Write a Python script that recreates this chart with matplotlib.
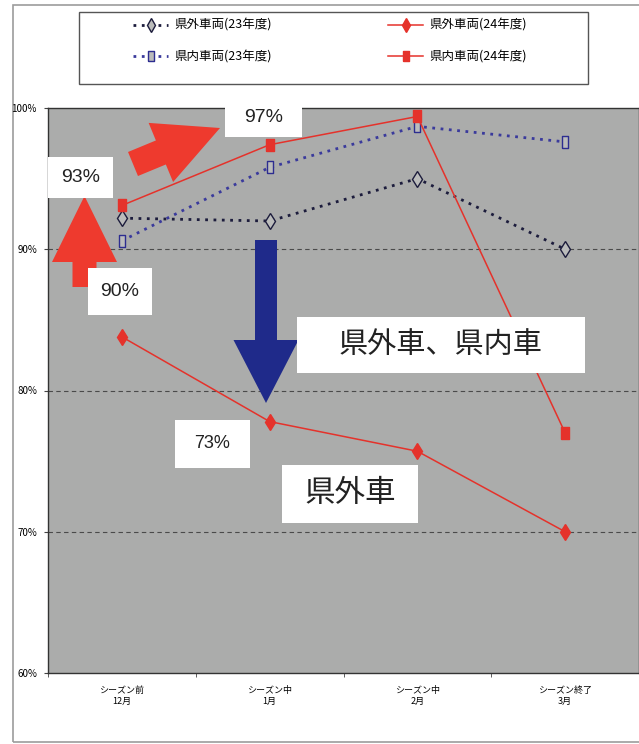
import matplotlib
matplotlib.use("Agg")
import matplotlib.pyplot as plt
from matplotlib.patches import Polygon, Rectangle
import numpy as np

plt.rcParams['font.family'] = ['Noto Sans CJK JP', 'DejaVu Sans']

# data (percent)
months = ['シーズン前\n12月', 'シーズン中\n1月', 'シーズン中\n2月', 'シーズン終了\n3月']
out_23 = [92.2, 92.0, 95.0, 90.0]   # 県外車両(23年度)
in_23 = [90.6, 95.8, 98.7, 97.6]    # 県内車両(23年度)
out_24 = [83.8, 77.8, 75.7, 70.0]   # 県外車両(24年度)
in_24 = [93.1, 97.4, 99.4, 77.0]    # 県内車両(24年度)
y_ticks = [60, 70, 80, 90, 100]
y_tick_labels = ['60%', '70%', '80%', '90%', '100%']

W, H = 639, 744


def fx(x):
    return x / W


def fy(y):
    return 1 - y / H


def arrow_poly(tail, tip, sw, hw, hl):
    # block arrow outline in pixel space -> figure fraction
    t = np.array(tail, float)
    p = np.array(tip, float)
    d = (p - t) / np.linalg.norm(p - t)
    n = np.array([-d[1], d[0]])
    b = p - d * hl
    pts = [t + n * sw / 2, b + n * sw / 2, b + n * hw / 2, p,
           b - n * hw / 2, b - n * sw / 2, t - n * sw / 2]
    return [(fx(q[0]), fy(q[1])) for q in pts]


fig = plt.figure(figsize=(W / 100, H / 100), dpi=100)
fig.patch.set_facecolor('white')

# outer chart frame and legend frame
fig.patches.append(Rectangle((fx(13), fy(742)), fx(680) - fx(13), fy(5) - fy(742),
                             transform=fig.transFigure, fill=False, ec='#9c9c9c', lw=1.2, zorder=-2))
fig.patches.append(Rectangle((fx(79), fy(84)), fx(588) - fx(79), fy(12) - fy(84),
                             transform=fig.transFigure, fc='white', ec='#555555', lw=1.0, zorder=-1))

ax = fig.add_axes([fx(48), fy(673), fx(639) - fx(48), fy(108) - fy(673)])
ax.set_facecolor('#abacab')
x = np.arange(len(months))

tall = [(-0.6, -1), (0.6, -1), (0.6, 1), (-0.6, 1), (-0.6, -1)]
red = '#e5322b'

ax.plot(x, out_23, color='#1c1c3c', ls=(0, (1, 2)), lw=2, marker='d', ms=8,
        mfc='#bbbcbb', mec='#1c1c3c', mew=1.0, label='県外車両(23年度)', zorder=3)
ax.plot(x, in_23, color='#3a3a9c', ls=(0, (1, 2)), lw=2, marker=tall, ms=8,
        mfc='#bbbcbb', mec='#2d2d90', mew=1.0, label='県内車両(23年度)', zorder=3)
ax.plot(x, out_24, color=red, lw=1.1, marker='d', ms=8,
        mfc=red, mec=red, label='県外車両(24年度)', zorder=3)
ax.plot(x, in_24, color=red, lw=1.1, marker=tall, ms=9,
        mfc=red, mec=red, label='県内車両(24年度)', zorder=3)

ax.set_xlim(-0.5, 3.5)
ax.set_ylim(60, 100)
ax.set_yticks(y_ticks)
ax.set_yticklabels(y_tick_labels)
ax.set_xticks(x)
ax.set_xticklabels(months, linespacing=1.3)
ax.set_xticks([-0.5, 0.5, 1.5, 2.5, 3.5], minor=True)
ax.tick_params(axis='x', which='major', length=0, pad=9, labelsize=6.5)
ax.tick_params(axis='x', which='minor', length=3, direction='out', color='#444444')
ax.tick_params(axis='y', length=3, pad=5, labelsize=7, color='#444444')
for yv in y_ticks[1:-1]:
    ax.axhline(yv, color='#4a4a4a', ls=(0, (4, 3)), lw=0.8, zorder=1)
for s in ax.spines.values():
    s.set_color('#333333')
    s.set_linewidth(1.0)
ax.spines['top'].set_linestyle((0, (1, 1)))

ax.legend(loc='upper left', bbox_to_anchor=(fx(133), fy(19)), bbox_transform=fig.transFigure,
          ncol=2, frameon=False, fontsize=9, handlelength=2.8, handletextpad=0.5,
          columnspacing=9.3, labelspacing=1.5, borderpad=0, borderaxespad=0, markerscale=0.85)

# block arrows
arrows = [
    (arrow_poly((84.5, 287), (84.5, 196), 24, 65, 66), '#ee3a2e'),
    (arrow_poly((133, 164), (220, 128), 26, 64, 64), '#ee3a2e'),
    (arrow_poly((266, 240), (266, 403), 22, 65, 63), '#1f2a8a'),
]
for pts, c in arrows:
    ax.add_patch(Polygon(pts, closed=True, fc=c, ec='none', transform=fig.transFigure,
                         clip_on=False, zorder=4))

# white callout boxes: (x0, y0, x1, y1) in pixels, text, size, family
boxes = [
    ((48, 157, 113, 198), '93%', 14, 'Liberation Sans'),
    ((225, 99, 302, 137), '97%', 14, 'Liberation Sans'),
    ((88, 268, 152, 315), '90%', 14, 'Liberation Sans'),
    ((175, 420, 250, 468), '73%', 13, 'Liberation Sans'),
    ((297, 317, 585, 373), '県外車、県内車', 21, 'Noto Sans CJK JP'),
    ((282, 465, 418, 523), '県外車', 22, 'Noto Sans CJK JP'),
]
for (x0, y0, x1, y1), txt, size, fam in boxes:
    ax.add_patch(Rectangle((fx(x0), fy(y1)), fx(x1) - fx(x0), fy(y0) - fy(y1), fc='white',
                           ec='none', transform=fig.transFigure, clip_on=False, zorder=5))
    ax.text(fx((x0 + x1) / 2), fy((y0 + y1) / 2), txt, transform=fig.transFigure,
            ha='center', va='center', fontsize=size, family=fam, color='#222222', zorder=6)

fig.savefig('out.png', dpi=100)
